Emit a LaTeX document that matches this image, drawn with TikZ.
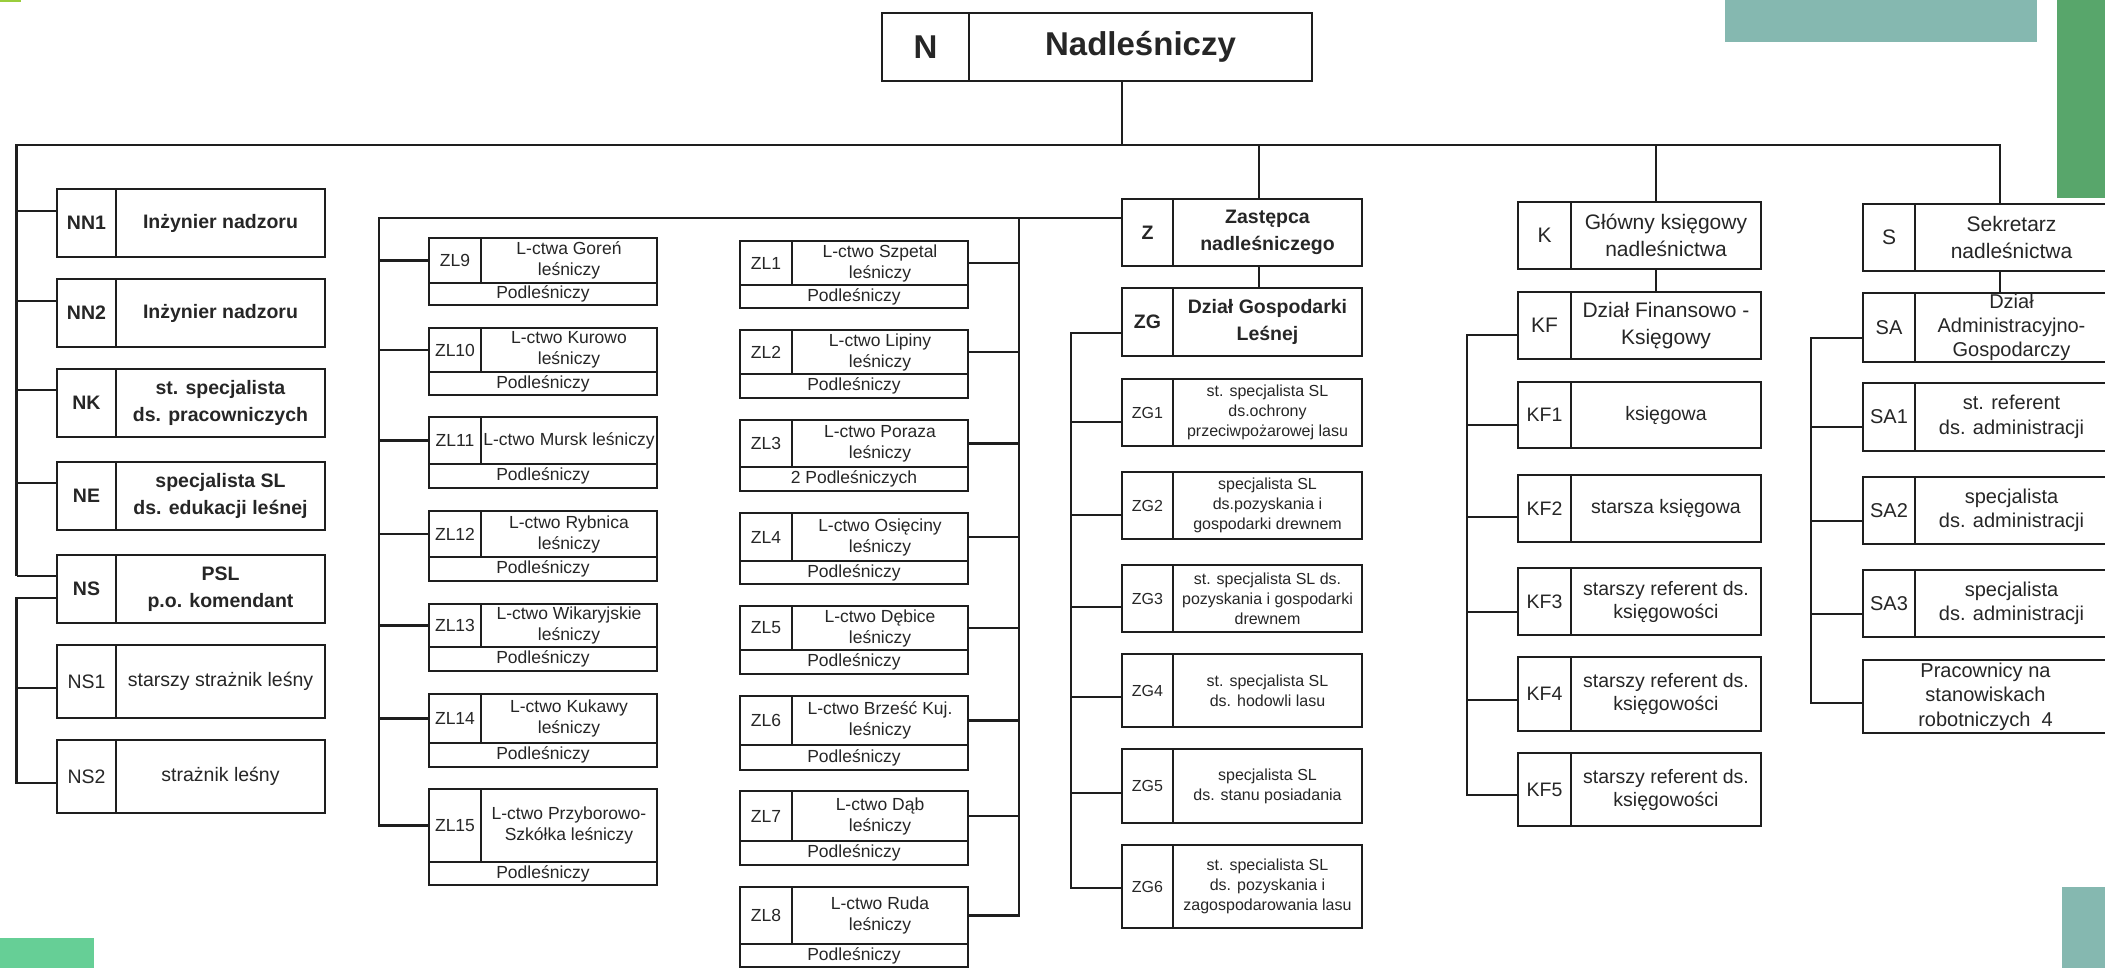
\documentclass[tikz,border=0pt]{standalone}
\usepackage{fontspec}
\setmainfont{Liberation Sans}
\definecolor{ink}{HTML}{1E1E1E}
\definecolor{txt}{HTML}{262626}
\definecolor{gA}{HTML}{9ACD3C}
\definecolor{gB}{HTML}{66CF96}
\definecolor{gC}{HTML}{58A66B}
\definecolor{tealc}{HTML}{85B8B0}
\tikzset{
  cell/.style={draw=ink, line width=2.2pt, inner sep=0pt, outer sep=0pt, anchor=north west, align=center, text=txt},
  conn/.style={draw=ink, line width=2.2pt},
  nf/.style={font=\fontsize{33}{38}\selectfont\bfseries},
  nnf/.style={font=\fontsize{19.5}{27}\selectfont\bfseries},
  nsf/.style={font=\fontsize{19.5}{24}\selectfont},
  zlf/.style={font=\fontsize{17.5}{21}\selectfont},
  zf/.style={font=\fontsize{19.5}{27}\selectfont\bfseries},
  zgf/.style={font=\fontsize{16}{20}\selectfont},
  kf/.style={font=\fontsize{21}{27}\selectfont},
  kff/.style={font=\fontsize{19.5}{23}\selectfont},
  saf/.style={font=\fontsize{20}{24}\selectfont},
  saaf/.style={font=\fontsize{20}{24.5}\selectfont}
}
% two-cell box: name, x1, y1, xdiv, x2, y2, style, label, text
\newcommand\twobox[9]{%
  \pgfmathsetmacro\bxwA{#4-#2}%
  \pgfmathsetmacro\bxwB{#5-#4}%
  \pgfmathsetmacro\bxhA{#6-#3}%
  \node[cell,#7,minimum width=\bxwA pt,minimum height=\bxhA pt] (#1) at (#2,#3) {#8};
  \node[cell,#7,minimum width=\bxwB pt,minimum height=\bxhA pt] (#1-t) at (#4,#3) {#9};}
% forestry box: name, y1, ymid, y2, label, text, bottom text (x from \zxa \zxd \zxb)
\newcommand\zlbox[7]{%
  \pgfmathsetmacro\bxwA{\zxd-\zxa}%
  \pgfmathsetmacro\bxwB{\zxb-\zxd}%
  \pgfmathsetmacro\bxwC{\zxb-\zxa}%
  \pgfmathsetmacro\bxhA{#3-#2}%
  \pgfmathsetmacro\bxhB{#4-#3}%
  \node[cell,zlf,minimum width=\bxwA pt,minimum height=\bxhA pt] (#1) at (\zxa,#2) {#5};
  \node[cell,zlf,minimum width=\bxwB pt,minimum height=\bxhA pt] (#1-t) at (\zxd,#2) {#6};
  \node[cell,zlf,minimum width=\bxwC pt,minimum height=\bxhB pt] (#1-b) at (\zxa,#3) {#7};}
\begin{document}
\begin{tikzpicture}[x=1pt,y=-1pt]
\useasboundingbox (0,0) rectangle (2105,968);
\clip (0,0) rectangle (2105,968);
\fill[white] (0,0) rectangle (2105,968);
% decorative blocks
\fill[gA] (0,0) rectangle (21,2);
\fill[gB] (0,938) rectangle (94,968);
\fill[tealc] (1725,0) rectangle (2037,42);
\fill[gC] (2057,0) rectangle (2105,198);
\fill[tealc] (2062,887) rectangle (2105,968);

% top
\twobox{N}{882}{13}{969}{1312}{81}{nf}{N}{Nadleśniczy}

% left column
\twobox{NN1}{57}{189}{116}{325}{257}{nnf}{NN1}{Inżynier nadzoru}
\twobox{NN2}{57}{279}{116}{325}{347}{nnf}{NN2}{Inżynier nadzoru}
\twobox{NK}{57}{369}{116}{325}{437}{nnf}{NK}{st. specjalista\\ds. pracowniczych}
\twobox{NE}{57}{462}{116}{325}{530}{nnf}{NE}{specjalista SL\\ds. edukacji leśnej}
\twobox{NS}{57}{555}{116}{325}{623}{nnf}{NS}{PSL\\p.o. komendant}
\twobox{NS1}{57}{645}{116}{325}{718}{nsf}{NS1}{starszy strażnik leśny}
\twobox{NS2}{57}{740}{116}{325}{813}{nsf}{NS2}{strażnik leśny}

% forestry districts, left column
\def\zxa{429}\def\zxd{481}\def\zxb{657}
\zlbox{ZL9}{238}{283}{305}{ZL9}{L-ctwa Goreń\\leśniczy}{Podleśniczy}
\zlbox{ZL10}{328}{372}{395}{ZL10}{L-ctwo Kurowo\\leśniczy}{Podleśniczy}
\zlbox{ZL11}{417}{464}{488}{ZL11}{L-ctwo Mursk leśniczy}{Podleśniczy}
\zlbox{ZL12}{511}{557}{581}{ZL12}{L-ctwo Rybnica\\leśniczy}{Podleśniczy}
\zlbox{ZL13}{604}{647}{671}{ZL13}{L-ctwo Wikaryjskie\\leśniczy}{Podleśniczy}
\zlbox{ZL14}{694}{743}{767}{ZL14}{L-ctwo Kukawy\\leśniczy}{Podleśniczy}
\zlbox{ZL15}{789}{862}{885}{ZL15}{L-ctwo Przyborowo-\\Szkółka leśniczy}{Podleśniczy}

% forestry districts, right column
\def\zxa{740}\def\zxd{792}\def\zxb{968}
\zlbox{ZL1}{241}{285}{308}{ZL1}{L-ctwo Szpetal\\leśniczy}{Podleśniczy}
\zlbox{ZL2}{330}{374}{398}{ZL2}{L-ctwo Lipiny\\leśniczy}{Podleśniczy}
\zlbox{ZL3}{420}{467}{491}{ZL3}{L-ctwo Poraza\\leśniczy}{2 Podleśniczych}
\zlbox{ZL4}{513}{561}{584}{ZL4}{L-ctwo Osięciny\\leśniczy}{Podleśniczy}
\zlbox{ZL5}{606}{650}{674}{ZL5}{L-ctwo Dębice\\leśniczy}{Podleśniczy}
\zlbox{ZL6}{696}{745}{770}{ZL6}{L-ctwo Brześć Kuj.\\leśniczy}{Podleśniczy}
\zlbox{ZL7}{791}{841}{865}{ZL7}{L-ctwo Dąb\\leśniczy}{Podleśniczy}
\zlbox{ZL8}{887}{944}{967}{ZL8}{L-ctwo Ruda\\leśniczy}{Podleśniczy}

% deputy and forest management
\twobox{Z}{1122}{199}{1173}{1362}{266}{zf}{Z}{Zastępca\\nadleśniczego}
\twobox{ZG}{1122}{288}{1173}{1362}{356}{zf}{ZG}{Dział Gospodarki\\Leśnej}
\twobox{ZG1}{1122}{379}{1173}{1362}{446}{zgf}{ZG1}{st. specjalista SL\\ds.ochrony\\przeciwpożarowej lasu}
\twobox{ZG2}{1122}{472}{1173}{1362}{539}{zgf}{ZG2}{specjalista SL\\ds.pozyskania i\\gospodarki drewnem}
\twobox{ZG3}{1122}{565}{1173}{1362}{632}{zgf}{ZG3}{st. specjalista SL ds.\\pozyskania i gospodarki\\drewnem}
\twobox{ZG4}{1122}{654}{1173}{1362}{727}{zgf}{ZG4}{st. specjalista SL\\ds. hodowli lasu}
\twobox{ZG5}{1122}{749}{1173}{1362}{823}{zgf}{ZG5}{specjalista SL\\ds. stanu posiadania}
\twobox{ZG6}{1122}{845}{1173}{1362}{928}{zgf}{ZG6}{st. specialista SL\\ds. pozyskania i\\zagospodarowania lasu}

% chief accountant
\twobox{K}{1518}{202}{1571}{1761}{269}{kf}{K}{Główny księgowy\\nadleśnictwa}
\twobox{KF}{1518}{292}{1571}{1761}{359}{kf}{KF}{Dział Finansowo -\\Księgowy}
\twobox{KF1}{1518}{382}{1571}{1761}{448}{kff}{KF1}{księgowa}
\twobox{KF2}{1518}{475}{1571}{1761}{542}{kff}{KF2}{starsza księgowa}
\twobox{KF3}{1518}{568}{1571}{1761}{635}{kff}{KF3}{starszy referent ds.\\księgowości}
\twobox{KF4}{1518}{657}{1571}{1761}{731}{kff}{KF4}{starszy referent ds.\\księgowości}
\twobox{KF5}{1518}{753}{1571}{1761}{826}{kff}{KF5}{starszy referent ds.\\księgowości}

% secretary
\twobox{S}{1863}{204}{1915}{2108}{271}{kf}{S}{Sekretarz\\nadleśnictwa}
\twobox{SA}{1863}{293}{1915}{2108}{362}{saf}{SA}{Dział\\Administracyjno-\\Gospodarczy}
\twobox{SA1}{1863}{383}{1915}{2108}{451}{saaf}{SA1}{st. referent\\ds. administracji}
\twobox{SA2}{1863}{477}{1915}{2108}{544}{saaf}{SA2}{specjalista\\ds. administracji}
\twobox{SA3}{1863}{570}{1915}{2108}{637}{saaf}{SA3}{specjalista\\ds. administracji}
\node[cell,saaf,minimum width=245pt,minimum height=73pt] (PR) at (1863,660) {Pracownicy na\\stanowiskach\\robotniczych\ \ 4};

% main bus
\coordinate (busL) at (16.5,145);
\coordinate (busR) at (2000,145);
\coordinate (nbus) at (1122,145);
\coordinate (zbus) at (1259,145);
\coordinate (kbus) at (1656,145);
\draw[conn] (busL |- 0,576) -- (busL) -- (busR) -- (S-t.north -| busR);
\draw[conn] (N-t.south -| nbus) -- (nbus);
\draw[conn] (zbus) -- (Z-t.north -| zbus);
\draw[conn] (Z-t.south -| zbus) -- (ZG-t.north -| zbus);
\draw[conn] (kbus) -- (K-t.north -| kbus);
\draw[conn] (K-t.south -| kbus) -- (KF-t.north -| kbus);
\draw[conn] (S-t.south -| busR) -- (SA-t.north -| busR);

% left column stubs
\foreach \n/\y in {NN1/211,NN2/301,NK/390,NE/483,NS/576}
  \draw[conn] (\n.west |- 0,\y) -- (busL |- 0,\y);
\draw[conn] (NS.west |- 0,598) -| (busL |- 0,783) -- (NS2.west |- 0,783);
\draw[conn] (NS1.west |- 0,688) -- (busL |- 0,688);

% forestry buses
\coordinate (zlL) at (379,218);
\coordinate (zlR) at (1019,218);
\draw[conn] (Z.west |- zlL) -- (zlL) -- (zlL |- ZL15.west) -- (ZL15.west);
\foreach \n in {9,...,14}
  \draw[conn] (ZL\n.west) -- (zlL |- ZL\n.west);
\draw[conn] (zlR) -- (zlR |- ZL8-t.east) -- (ZL8-t.east);
\foreach \n in {1,...,7}
  \draw[conn] (ZL\n-t.east) -- (zlR |- ZL\n-t.east);

% forest management bus
\coordinate (zgx) at (1071,333);
\draw[conn] (ZG.west |- zgx) -- (zgx) -- (zgx |- 0,888) -- (ZG6.west |- 0,888);
\foreach \n/\y in {ZG1/422,ZG2/515,ZG3/607,ZG4/697,ZG5/793}
  \draw[conn] (\n.west |- 0,\y) -- (zgx |- 0,\y);

% finance bus
\coordinate (kfx) at (1467,335);
\draw[conn] (KF.west |- kfx) -- (kfx) -- (kfx |- 0,795) -- (KF5.west |- 0,795);
\foreach \n/\y in {KF1/425,KF2/517,KF3/612,KF4/700}
  \draw[conn] (\n.west |- 0,\y) -- (kfx |- 0,\y);

% administration bus
\coordinate (sax) at (1811,338);
\draw[conn] (SA.west |- sax) -- (sax) -- (sax |- 0,703) -- (PR.west |- 0,703);
\foreach \n/\y in {SA1/427,SA2/521,SA3/614}
  \draw[conn] (\n.west |- 0,\y) -- (sax |- 0,\y);
\end{tikzpicture}
\end{document}
